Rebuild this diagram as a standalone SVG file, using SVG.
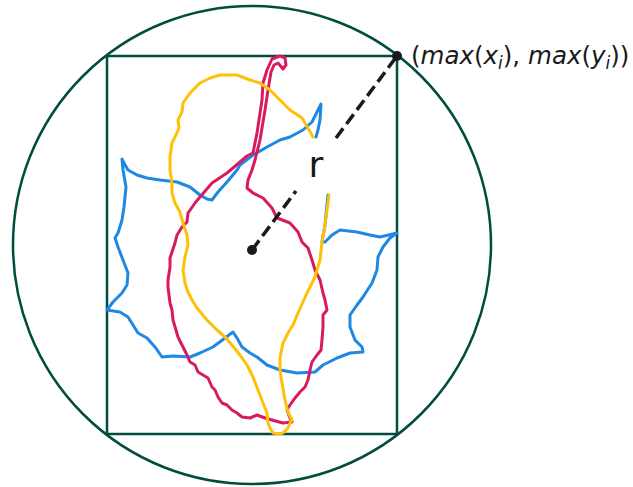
<svg xmlns="http://www.w3.org/2000/svg" width="633" height="487" viewBox="0 0 633 487">
<style>
.frame{fill:none;stroke:#004d40;stroke-width:2.5}
.curve{fill:none;stroke-width:3;stroke-linejoin:round;stroke-linecap:round}
.blue{stroke:#1e88e5}
.red{stroke:#d81b60}
.yellow{stroke:#ffc107}
.dash{stroke:#1a1a1a;stroke-width:3.5;stroke-dasharray:12 5.5;fill:none}
.dot{fill:#1a1a1a}
.lbl{font-family:"DejaVu Sans",sans-serif;fill:#1a1a1a}
</style>
<rect width="633" height="487" fill="#ffffff"/>
<g id="bounding-circle"><circle class="frame" cx="252" cy="245" r="239"/></g>
<g id="bounding-box"><rect class="frame" x="107" y="56" width="290" height="378"/></g>
<g id="shapes">
<path id="blue-shape" class="curve blue" d="M316,137 L318,130 L320,120 L321,104 L317,112 L312,122 L303,130 L290,137 L280,140 L267,147 L253,155 L240,165 L237,170 L227,182 L218,192 L212,200 L207,199 L200,195 L190,187 L177,182 L160,180 L147,178 L137,175 L128,170 L124,163 L122,159 L123,170 L126,187 L124,207 L122,220 L118,233 L115,238 L118,247 L123,260 L128,273 L127,285 L122,293 L113,302 L107,310 L120,312 L128,317 L133,325 L138,333 L147,338 L155,347 L162,357 L173,356 L190,357 L200,353 L213,347 L225,338 L233,332 L237,338 L242,347 L250,353 L257,357 L267,365 L280,370 L297,373 L315,372 L323,365 L337,358 L350,353 L363,352 L362,347 L355,340 L350,327 L350,315 L357,305 L363,297 L372,283 L377,270 L378,257 L383,247 L390,238 L397,233 L380,237 L370,235 L357,232 L340,230 L332,235 L325,242 L322,242 L325,225 L328,195"/>
<path id="red-shape" class="curve red" d="M283,69 L286,65 L285,58 L280,56 L272,59 L267,70 L263,83 L262,100 L257,133 L253,153 L247,156 L227,173 L212,183 L200,197 L195,203 L188,213 L187,222 L182,227 L177,235 L175,243 L170,258 L170,267 L168,280 L168,287 L170,303 L172,310 L173,320 L178,337 L183,347 L187,355 L190,362 L195,365 L198,372 L203,375 L208,378 L212,387 L215,390 L218,397 L222,403 L227,405 L232,410 L237,413 L242,417 L250,418 L257,415 L265,418 L272,420 L283,423 L292,422 L290,418 L287,410 L290,405 L295,398 L300,392 L305,387 L308,380 L310,370 L312,362 L317,355 L321,350 L322,340 L323,327 L323,315 L327,310 L325,300 L323,293 L320,280 L315,270 L312,260 L308,248 L302,242 L298,232 L290,223 L277,218 L272,208 L263,198 L253,193 L247,188 L248,180 L252,170 L255,160 L260,140 L265,110 L268,90 L271,72 L274,65 L278,63 Z"/>
<path id="yellow-shape" class="curve yellow" d="M313,137 L308,128 L302,118 L290,110 L280,100 L270,90 L260,83 L250,80 L237,75 L220,75 L210,78 L200,83 L190,93 L183,103 L182,112 L178,120 L179,128 L175,137 L172,143 L170,157 L170,170 L172,183 L172,193 L175,203 L180,212 L183,223 L187,235 L188,245 L185,257 L183,270 L185,283 L188,292 L192,300 L197,308 L207,320 L217,330 L225,337 L232,345 L240,355 L247,365 L253,377 L258,390 L263,403 L267,413 L268,423 L270,428 L273,433 L278,434 L283,433 L288,428 L290,423 L292,420 L288,412 L285,400 L282,383 L280,370 L280,358 L283,343 L288,333 L293,325 L298,313 L307,293 L315,277 L320,260 L322,242 L325,225 L327,210 L329,195"/>
</g>
<g id="radius">
<line class="dash" x1="252" y1="250" x2="296" y2="191"/>
<line class="dash" x1="336" y1="138" x2="397" y2="56"/>
<circle class="dot" cx="252" cy="250" r="5"/>
<circle class="dot" cx="397" cy="56" r="5"/>
</g>
<g id="labels">
<text class="lbl" x="316" y="177" font-size="36" text-anchor="middle">r</text>
<text class="lbl" x="411" y="64" font-size="24.5">(<tspan font-style="italic">max</tspan>(<tspan font-style="italic">x</tspan><tspan font-style="italic" font-size="17" dy="5">i</tspan><tspan dy="-5">),</tspan><tspan font-style="italic" dx="8">max</tspan>(<tspan font-style="italic">y</tspan><tspan font-style="italic" font-size="17" dy="5">i</tspan><tspan dy="-5">))</tspan></text>
</g>
</svg>
